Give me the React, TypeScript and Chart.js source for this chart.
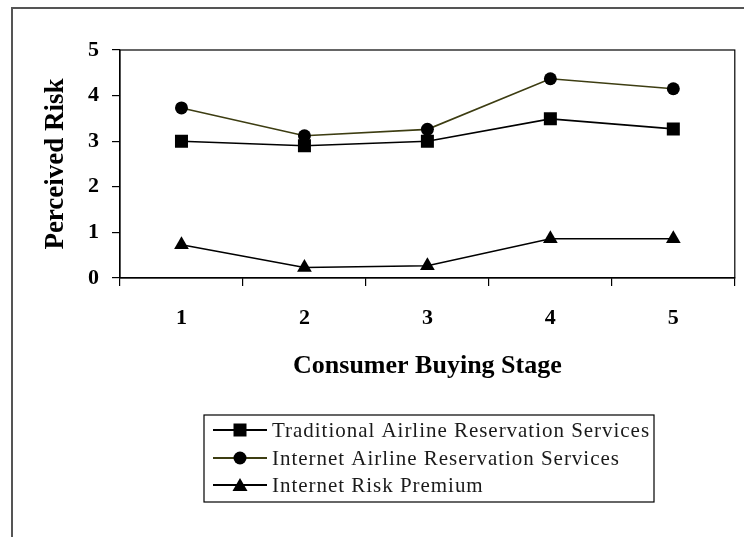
import React, { useEffect, useRef } from 'react';
import { Chart, registerables } from 'chart.js';

Chart.register(...registerables);

const stages = ['1', '2', '3', '4', '5'];
const traditional = [3.0, 2.9, 3.0, 3.49, 3.27];
const internet = [3.73, 3.12, 3.26, 4.37, 4.15];
const premium = [0.73, 0.23, 0.27, 0.86, 0.86];
const seriesNames = [
  'Traditional Airline Reservation Services',
  'Internet Airline Reservation Services',
  'Internet Risk Premium',
];
const seriesColors = ['#000000', '#3d3d12', '#000000'];
const seriesMarkers = ['rect', 'circle', 'triangle'];
const yMin = 0;
const yMax = 5;
const yStep = 1;
const xTitle = 'Consumer Buying Stage';
const yTitle = 'Perceived Risk';

const SERIF = '"Liberation Serif", "Times New Roman", serif';

function drawMarker(ctx: CanvasRenderingContext2D, kind: string, x: number, y: number) {
  ctx.beginPath();
  if (kind === 'rect') {
    ctx.rect(x - 6.5, y - 6.5, 13, 13);
  } else if (kind === 'circle') {
    ctx.arc(x, y, 6.5, 0, Math.PI * 2);
  } else {
    ctx.moveTo(x, y - 7);
    ctx.lineTo(x + 7.5, y + 6);
    ctx.lineTo(x - 7.5, y + 6);
    ctx.closePath();
  }
  ctx.fillStyle = '#000';
  ctx.fill();
}

const boxPlugin = {
  id: 'plotBox',
  afterDraw(chart: any) {
    const { ctx, chartArea } = chart;
    ctx.save();
    ctx.strokeStyle = '#000';
    ctx.lineWidth = 1.2;
    ctx.strokeRect(chartArea.left, chartArea.top, chartArea.right - chartArea.left, chartArea.bottom - chartArea.top);
    ctx.restore();
  },
};

const legendPlugin = {
  id: 'boxLegend',
  afterDraw(chart: any) {
    const ctx: CanvasRenderingContext2D = chart.ctx;
    const left = 204;
    const top = 415;
    const width = 450;
    const height = 87;
    const rowY = [430, 458, 485];
    ctx.save();
    ctx.strokeStyle = '#000';
    ctx.lineWidth = 1.2;
    ctx.strokeRect(left, top, width, height);
    ctx.font = '21px ' + SERIF;
    ctx.textBaseline = 'middle';
    ctx.textAlign = 'left';
    const first = chart.data.datasets[0].label as string;
    const w = ctx.measureText(first).width;
    const spacing = Math.max(0, (378 - w) / first.length);
    (ctx as any).letterSpacing = spacing.toFixed(2) + 'px';
    chart.data.datasets.forEach((ds: any, i: number) => {
      const y = rowY[i];
      ctx.strokeStyle = ds.borderColor;
      ctx.lineWidth = 2;
      ctx.beginPath();
      ctx.moveTo(213, y);
      ctx.lineTo(267, y);
      ctx.stroke();
      drawMarker(ctx, seriesMarkers[i], 240, y);
      ctx.fillStyle = '#1a1a1a';
      ctx.fillText(ds.label, 272, y + 1);
    });
    ctx.restore();
  },
};

export default function App() {
  const canvasRef = useRef<HTMLCanvasElement | null>(null);

  useEffect(() => {
    if (!canvasRef.current) return;
    Chart.defaults.color = '#000';
    const values = [traditional, internet, premium];
    const chart = new Chart(canvasRef.current, {
      type: 'line',
      data: {
        labels: stages,
        datasets: values.map((v, i) => ({
          label: seriesNames[i],
          data: v,
          borderColor: seriesColors[i],
          backgroundColor: '#000',
          pointBackgroundColor: '#000',
          pointBorderColor: '#000',
          pointBorderWidth: 0,
          pointStyle: seriesMarkers[i] as any,
          pointRadius: seriesMarkers[i] === 'rect' ? 9.2 : seriesMarkers[i] === 'circle' ? 6.5 : 8.5,
          borderWidth: 1.6,
          tension: 0,
          fill: false,
        })),
      },
      plugins: [boxPlugin, legendPlugin],
      options: {
        animation: false,
        responsive: false,
        devicePixelRatio: 1,
        layout: { padding: { left: 40, right: 7, top: 50, bottom: 155.4 } },
        plugins: { legend: { display: false }, tooltip: { enabled: false } },
        scales: {
          x: {
            type: 'category',
            offset: true,
            grid: {
              display: true,
              offset: true,
              drawOnChartArea: false,
              drawTicks: true,
              tickLength: 8,
              color: '#000',
              lineWidth: 1.2,
            },
            border: { display: true, color: '#000', width: 1.2 },
            ticks: {
              padding: 19,
              font: { family: SERIF, size: 22, weight: 'bold' },
              color: '#000',
            },
            title: {
              display: true,
              text: xTitle,
              font: { family: SERIF, size: 26, weight: 'bold' },
              color: '#000',
              padding: { top: 0, bottom: 0 },
            },
            afterFit(scale: any) {
              scale.height = 103.6;
            },
          },
          y: {
            type: 'linear',
            min: yMin,
            max: yMax,
            grid: {
              display: true,
              drawOnChartArea: false,
              drawTicks: true,
              tickLength: 8,
              color: '#000',
              lineWidth: 1.2,
            },
            border: { display: true, color: '#000', width: 1.2 },
            ticks: {
              stepSize: yStep,
              padding: 13,
              font: { family: SERIF, size: 22, weight: 'bold' },
              color: '#000',
            },
            title: {
              display: true,
              text: yTitle,
              font: { family: SERIF, size: 27, weight: 'bold' },
              color: '#000',
              padding: { top: 0, bottom: 0 },
            },
            afterFit(scale: any) {
              scale.width = 80;
            },
          },
        },
      },
    });
    return () => chart.destroy();
  }, []);

  return (
    <div style={{ position: 'absolute', left: 0, top: 0, width: 744, height: 537, background: '#fff' }}>
      <div
        style={{
          position: 'absolute',
          left: 11,
          top: 7,
          right: 0,
          bottom: 0,
          borderTop: '2px solid #555',
          borderLeft: '2px solid #555',
        }}
      />
      <canvas ref={canvasRef} width={744} height={537} style={{ position: 'absolute', left: 0, top: 0 }} />
    </div>
  );
}
